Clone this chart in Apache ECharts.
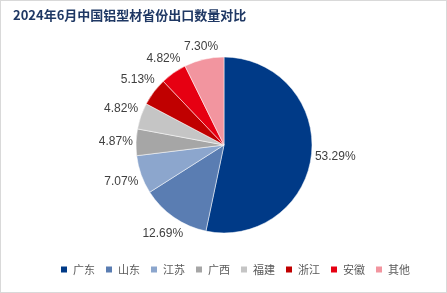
<!DOCTYPE html>
<html><head><meta charset="utf-8">
<script src="https://cdn.jsdelivr.net/npm/echarts@6/dist/echarts.min.js"></script>
<style>
html,body{margin:0;padding:0;background:#fff;}
#c{position:absolute;left:0;top:0;width:445px;height:291px;border:1px solid #d9d9d9;}
</style></head><body>
<div id="c"></div>
<script>
var categories = ['广东','山东','江苏','广西','福建','浙江','安徽','其他'];
var values = [53.29, 12.69, 7.07, 4.87, 4.82, 5.13, 4.82, 7.30];
var colors = ['#003A87','#5A7DB2','#8CA6CD','#A6A6A6','#C5C5C5','#C00000','#E60012','#F2959F'];
var title = '2024年6月中国铝型材省份出口数量对比';

var CX = 223, CY = 144, R = 88, GAP = 3;
var total = values.reduce(function(a,b){return a+b;},0);
var mids = [], acc = 0;
values.forEach(function(v){ mids.push((acc + v/2)/total*2*Math.PI); acc += v; });

var chart = echarts.init(document.getElementById('c'), null, {renderer:'canvas'});
chart.setOption({
  animation:false,
  title:{text:title,left:7,top:3,textStyle:{fontFamily:'Noto Sans CJK SC',fontSize:13,fontWeight:'bold',color:'#1F3864'}},
  legend:{
    data:categories,bottom:12,left:53,itemWidth:8,itemHeight:8,itemGap:9,icon:'rect',
    textStyle:{fontFamily:'Noto Sans CJK SC',fontSize:11,color:'#595959'}
  },
  color:colors,
  series:[{
    type:'pie',center:[CX,CY],radius:[0,R],startAngle:90,clockwise:true,
    data:categories.map(function(n,i){return {name:n,value:values[i]};}),
    label:{show:true,position:'outside',formatter:function(p){return p.value.toFixed(2)+'%';},
      fontFamily:'Liberation Sans',fontSize:12,color:'#404040'},
    labelLine:{show:false,length:6,length2:0},
    labelLayout:function(p){
      var a = mids[p.dataIndex];
      var dx = Math.sin(a), dy = -Math.cos(a);
      var w = p.labelRect.width, h = p.labelRect.height;
      var d = R + GAP + Math.abs(dx)*w/2 + Math.abs(dy)*h/2;
      return {x: CX + dx*d, y: CY + dy*d, align:'center', verticalAlign:'middle'};
    },
    itemStyle:{borderColor:'#fff',borderWidth:0.5},
    emphasis:{disabled:true}
  }]
});
</script></body></html>
